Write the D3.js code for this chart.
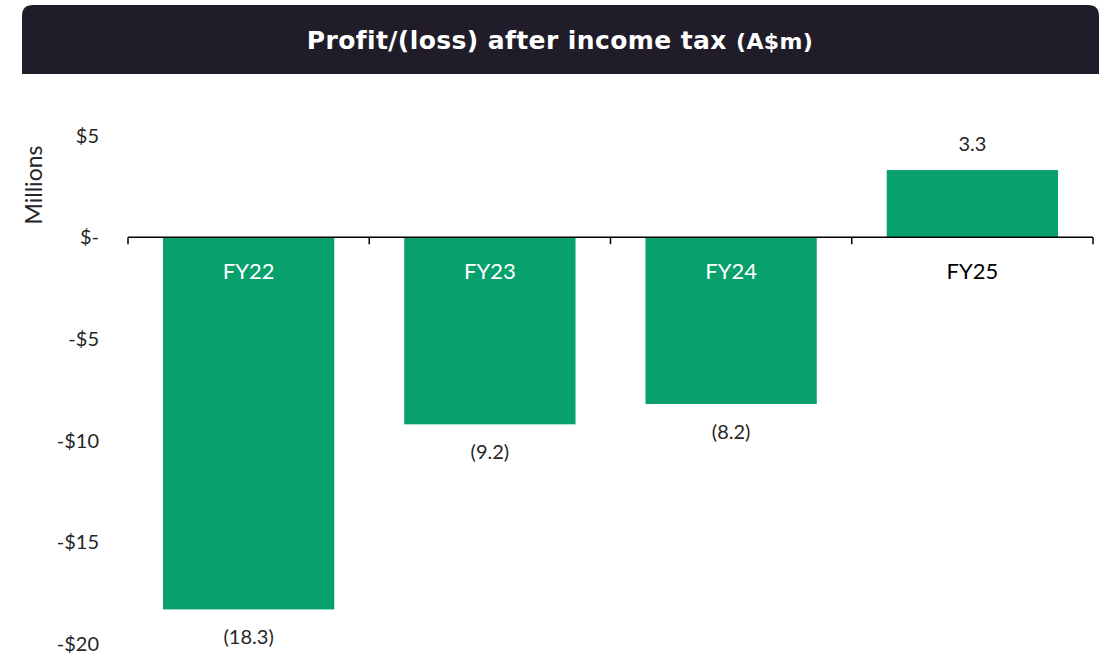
<!DOCTYPE html>
<html><head><meta charset="utf-8">
<script src="https://cdn.jsdelivr.net/npm/d3@7"></script>
<style>body{margin:0;background:#fff;} svg{display:block;}</style>
</head><body>
<svg id="c" width="1103" height="657"></svg>
<script>
const categories = ["FY22", "FY23", "FY24", "FY25"];
const values = [-18.3, -9.2, -8.2, 3.3];
const valueLabels = ["(18.3)", "(9.2)", "(8.2)", "3.3"];
const yTicks = [5, 0, -5, -10, -15, -20];
const yTickLabels = ["$5", "$-", "-$5", "-$10", "-$15", "-$20"];

const svg = d3.select("#c");
const green = "#08a06c";
const textCol = "#262626";
const bodyFont = "Lato, 'Open Sans', sans-serif";

// title bar
const tb = {x:22, y:5, w:1077, h:69, r:11};
svg.append("path")
  .attr("d", `M${tb.x},${tb.y+tb.h} V${tb.y+tb.r} Q${tb.x},${tb.y} ${tb.x+tb.r},${tb.y} H${tb.x+tb.w-tb.r} Q${tb.x+tb.w},${tb.y} ${tb.x+tb.w},${tb.y+tb.r} V${tb.y+tb.h} Z`)
  .attr("fill", "#211c29");
const title = svg.append("text")
  .attr("x", 560).attr("y", 49)
  .attr("text-anchor", "middle")
  .attr("fill", "#fff")
  .attr("font-family", "'DejaVu Sans', sans-serif")
  .attr("font-weight", 700)
  .attr("letter-spacing", 0.4)
  .attr("font-size", 25);
title.append("tspan").text("Profit/(loss) after income tax ");
title.append("tspan").attr("font-size", 22).text("(A$m)");

const x = d3.scaleBand().domain(categories).range([128, 1093]).paddingInner(0.29).paddingOuter(0.145);
const y = d3.scaleLinear().domain([-20, 5]).range([644, 135.5]);

// bars
svg.append("g").selectAll("rect").data(values).join("rect")
  .attr("x", (d,i) => x(categories[i]))
  .attr("width", x.bandwidth())
  .attr("y", d => y(Math.max(0, d)))
  .attr("height", d => Math.abs(y(d) - y(0)))
  .attr("fill", green);

// y tick labels
svg.append("g").selectAll("text").data(yTicks).join("text")
  .attr("x", 99)
  .attr("y", d => y(d))
  .attr("dy", "0.35em")
  .attr("text-anchor", "end")
  .attr("fill", textCol)
  .attr("font-family", bodyFont)
  .attr("font-size", 20)
  .text((d,i) => yTickLabels[i]);

// y axis title
svg.append("text")
  .attr("transform", `translate(42,185) rotate(-90)`)
  .attr("text-anchor", "middle")
  .attr("fill", textCol)
  .attr("font-family", bodyFont)
  .attr("font-size", 23)
  .text("Millions");

// x axis at zero
const xAxisG = svg.append("g");
const y0 = y(0);
xAxisG.append("line").attr("x1", 128).attr("x2", 1093).attr("y1", y0).attr("y2", y0)
  .attr("stroke", "#000").attr("stroke-width", 1.5);
const tickXs = categories.map(c => x(c) - x.step()*x.paddingInner()/2);
tickXs[0] = 128;
tickXs.push(1093);
xAxisG.selectAll("line.tick").data(tickXs).join("line").attr("class","tick")
  .attr("x1", d => d).attr("x2", d => d)
  .attr("y1", y0).attr("y2", y0 + 7)
  .attr("stroke", "#000").attr("stroke-width", 1.5);

// category labels
svg.append("g").selectAll("text").data(categories).join("text")
  .attr("x", d => x(d) + x.bandwidth()/2)
  .attr("y", y0 + 42)
  .attr("text-anchor", "middle")
  .attr("fill", (d,i) => values[i] < 0 ? "#fff" : "#000")
  .attr("font-family", bodyFont)
  .attr("font-size", 22)
  .text(d => d);

// value labels
svg.append("g").selectAll("text").data(values).join("text")
  .attr("x", (d,i) => x(categories[i]) + x.bandwidth()/2)
  .attr("y", d => d < 0 ? y(d) + 35 : y(d) - 19)
  .attr("text-anchor", "middle")
  .attr("fill", textCol)
  .attr("font-family", bodyFont)
  .attr("font-size", 20)
  .text((d,i) => valueLabels[i]);
</script>
</body></html>
